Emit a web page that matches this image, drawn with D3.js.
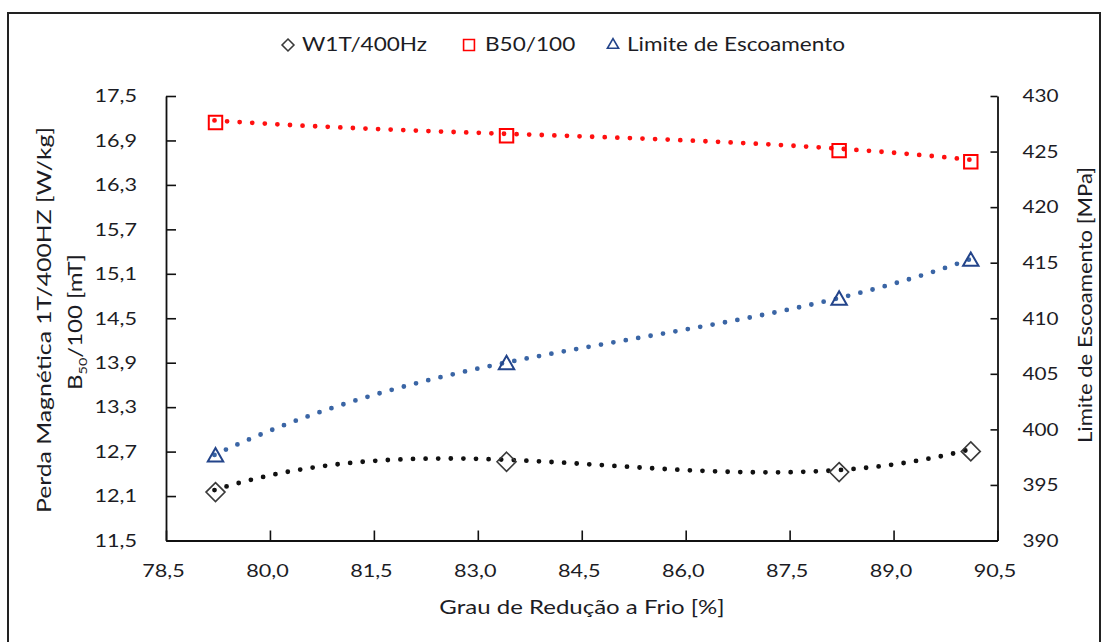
<!DOCTYPE html>
<html>
<head>
<meta charset="utf-8">
<script src="https://cdn.jsdelivr.net/npm/d3@7"></script>
<style>
  html, body { margin: 0; padding: 0; background: #fff; }
  svg text { font-family: Lato, "Open Sans", sans-serif; fill: #1c1c24; }
</style>
</head>
<body>
<svg id="chart" width="1104" height="642"></svg>
<script>
// Grau de redução a frio (%) for each sample
const reducao = [79.2, 83.4, 88.2, 90.1];
// Perda magnética 1T/400Hz (W/kg) – left axis
const perda = [12.18, 12.59, 12.45, 12.73];
// B50/100 (mT) – left axis
const b50 = [17.17, 16.99, 16.79, 16.64];
// Limite de escoamento (MPa) – right axis
const limite = [397.7, 406.0, 411.8, 415.3];

const xTicks = [78.5, 80.0, 81.5, 83.0, 84.5, 86.0, 87.5, 89.0, 90.5];
const leftTicks = [11.5, 12.1, 12.7, 13.3, 13.9, 14.5, 15.1, 15.7, 16.3, 16.9, 17.5];
const rightTicks = [390, 395, 400, 405, 410, 415, 420, 425, 430];

const svg = d3.select("#chart");
const plot = { left: 166, right: 997.5, top: 96, bottom: 540.5 };

const x = d3.scaleLinear().domain([78.5, 90.5]).range([plot.left, plot.right]);
const yL = d3.scaleLinear().domain([11.5, 17.5]).range([plot.bottom, plot.top]);
const yR = d3.scaleLinear().domain([390, 430]).range([plot.bottom, plot.top]);

const comma = d => d3.format(".1f")(d).replace(".", ",");

// stretch text horizontally to mimic the wide rendering of the labels
function stretch(sel, k) {
  sel.each(function () {
    const w = this.getComputedTextLength();
    d3.select(this).attr("textLength", w * k).attr("lengthAdjust", "spacingAndGlyphs");
  });
}

// least-squares polynomial trendline (order 3)
function polyfit(xs, ys, order) {
  const x0 = d3.mean(xs);
  const n = order + 1;
  const A = Array.from({ length: n }, () => new Array(n + 1).fill(0));
  xs.forEach((xv, k) => {
    const u = xv - x0;
    for (let i = 0; i < n; i++) {
      for (let j = 0; j < n; j++) A[i][j] += Math.pow(u, i + j);
      A[i][n] += ys[k] * Math.pow(u, i);
    }
  });
  for (let c = 0; c < n; c++) {
    let p = c;
    for (let r = c + 1; r < n; r++) if (Math.abs(A[r][c]) > Math.abs(A[p][c])) p = r;
    [A[c], A[p]] = [A[p], A[c]];
    for (let r = 0; r < n; r++) {
      if (r === c) continue;
      const f = A[r][c] / A[c][c];
      for (let j = c; j <= n; j++) A[r][j] -= f * A[c][j];
    }
  }
  const coef = A.map((row, i) => row[n] / row[i]);
  return xv => coef.reduce((s, a, i) => s + a * Math.pow(xv - x0, i), 0);
}

// outer frame
svg.append("rect")
  .attr("x", 8).attr("y", 13).attr("width", 1092).attr("height", 640)
  .attr("fill", "none").attr("stroke", "#222").attr("stroke-width", 2);

// axes
const axisStyle = g => {
  g.select(".domain").attr("stroke", "#111").attr("stroke-width", 1.8);
  g.selectAll(".tick line").attr("stroke", "#111").attr("stroke-width", 1.6);
  g.selectAll(".tick text").attr("font-size", 18).attr("font-family", "Lato, sans-serif").attr("fill", "#1c1c24");
};

const gx = svg.append("g")
  .attr("transform", `translate(0,${plot.bottom})`)
  .call(d3.axisBottom(x).tickValues(xTicks).tickFormat(comma).tickSizeInner(-10).tickSizeOuter(0).tickPadding(24))
  .call(axisStyle);
gx.selectAll(".tick text").attr("dx", -3);
stretch(gx.selectAll(".tick text"), 1.2);

const gl = svg.append("g")
  .attr("transform", `translate(${plot.left},0)`)
  .call(d3.axisLeft(yL).tickValues(leftTicks).tickFormat(comma).tickSizeInner(-10).tickSizeOuter(0).tickPadding(29))
  .call(axisStyle);
stretch(gl.selectAll(".tick text"), 1.2);

const gr = svg.append("g")
  .attr("transform", `translate(${plot.right},0)`)
  .call(d3.axisRight(yR).tickValues(rightTicks).tickFormat(d3.format("d")).tickSizeInner(-7).tickSizeOuter(0).tickPadding(25))
  .call(axisStyle);
stretch(gr.selectAll(".tick text"), 1.15);

// axis titles
const xt = svg.append("text")
  .attr("x", 582).attr("y", 614).attr("text-anchor", "middle").attr("font-size", 20)
  .text("Grau de Redução a Frio [%]");
stretch(xt, 1.2);

svg.append("text")
  .attr("transform", "translate(51,320) rotate(-90)")
  .attr("text-anchor", "middle").attr("font-size", 20)
  .attr("textLength", 386).attr("lengthAdjust", "spacingAndGlyphs")
  .text("Perda Magnética 1T/400HZ [W/kg]");

const bt = svg.append("text")
  .attr("transform", "translate(82,322) rotate(-90) scale(1.2,1)")
  .attr("text-anchor", "middle").attr("font-size", 20);
bt.append("tspan").text("B");
bt.append("tspan").attr("font-size", 12).attr("dy", 5).text("50");
bt.append("tspan").attr("dy", -5).text("/100 [mT]");

svg.append("text")
  .attr("transform", "translate(1092,305) rotate(-90)")
  .attr("text-anchor", "middle").attr("font-size", 20)
  .attr("textLength", 276).attr("lengthAdjust", "spacingAndGlyphs")
  .text("Limite de Escoamento [MPa]");

// dotted polynomial trendlines over the measured range
const series = [
  { ys: perda, scale: yL, color: "#111111" },
  { ys: b50, scale: yL, color: "#ff1010" },
  { ys: limite, scale: yR, color: "#3a65a5" }
];
const [xMin, xMax] = d3.extent(reducao);
const samples = d3.range(0, 241).map(i => xMin + (xMax - xMin) * i / 240);
series.forEach(s => {
  const f = polyfit(reducao, s.ys, 3);
  const line = d3.line().x(d => x(d)).y(d => s.scale(f(d)));
  svg.append("path")
    .attr("d", line(samples))
    .attr("fill", "none").attr("stroke", s.color)
    .attr("stroke-width", 4.8).attr("stroke-linecap", "round")
    .attr("stroke-dasharray", "0 12.6");
});

// markers (drawn slightly offset from the line, as in the original rendering)
const pts = (ys, yScale) => reducao.map((r, i) => [x(r), yScale(ys[i])]);
const diamond = d3.symbol().type(d3.symbolDiamond2).size(230);
const square = d3.symbol().type(d3.symbolSquare2).size(230);
const triangle = d3.symbol().type(d3.symbolTriangle2).size(170);

svg.append("g").selectAll("path").data(pts(perda, yL)).join("path")
  .attr("transform", d => `translate(${d[0] + 1},${d[1] + 2})`)
  .attr("d", diamond).attr("fill", "none").attr("stroke", "#3a3a3a").attr("stroke-width", 1.6);

svg.append("g").selectAll("path").data(pts(b50, yL)).join("path")
  .attr("transform", d => `translate(${d[0] + 1},${d[1] + 2})`)
  .attr("d", square).attr("fill", "none").attr("stroke", "#ff0000").attr("stroke-width", 2);

svg.append("g").selectAll("path").data(pts(limite, yR)).join("path")
  .attr("transform", d => `translate(${d[0] + 1},${d[1] + 2})`)
  .attr("d", triangle).attr("fill", "none").attr("stroke", "#23448a").attr("stroke-width", 2);

// legend
const legendItems = [
  { label: "W1T/400Hz", sym: d3.symbol().type(d3.symbolDiamond2).size(90), color: "#3a3a3a", mx: 288, tx: 302 },
  { label: "B50/100", sym: d3.symbol().type(d3.symbolSquare2).size(150), color: "#ff0000", mx: 469, tx: 485 },
  { label: "Limite de Escoamento", sym: d3.symbol().type(d3.symbolTriangle2).size(90), color: "#23448a", mx: 613, tx: 627 }
];
const lg = svg.append("g");
legendItems.forEach(it => {
  lg.append("path").attr("transform", `translate(${it.mx},45)`)
    .attr("d", it.sym).attr("fill", "none").attr("stroke", it.color).attr("stroke-width", 1.6);
  const t = lg.append("text").attr("x", it.tx).attr("y", 51).attr("font-size", 18.5).text(it.label);
  stretch(t, 1.22);
});
</script>
</body>
</html>
